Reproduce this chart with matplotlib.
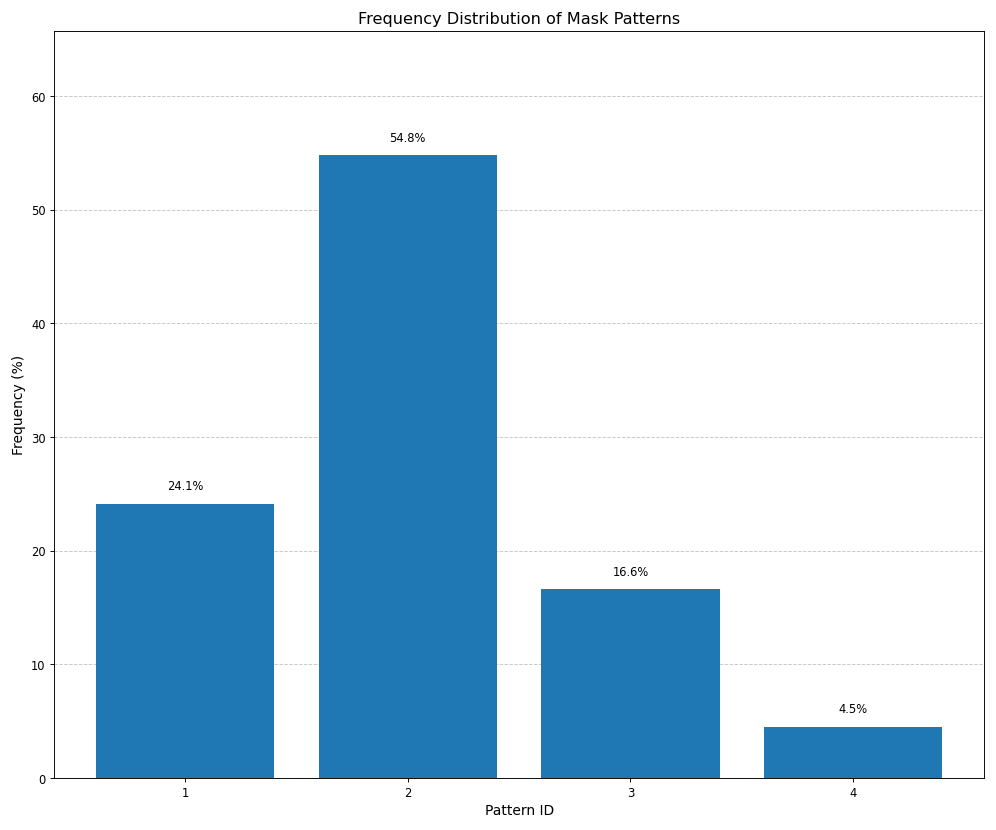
import matplotlib.pyplot as plt
import numpy as np

pattern_ids = [1, 2, 3, 4]
frequencies = [24.1, 54.8, 16.6, 4.5]

fig, ax = plt.subplots(figsize=(12, 10), dpi=83.08)
bars = ax.bar(pattern_ids, frequencies, color="#1f77b4")

for b, v in zip(bars, frequencies):
    ax.text(b.get_x() + b.get_width() / 2, v + 1, f"{v}%",
            ha="center", va="bottom", fontsize=10)

ax.set_xticks(pattern_ids)
ax.set_ylim(0, max(frequencies) * 1.2)
ax.set_xlabel("Pattern ID", fontsize=12)
ax.set_ylabel("Frequency (%)", fontsize=12)
ax.set_title("Frequency Distribution of Mask Patterns", fontsize=14)
ax.grid(axis="y", linestyle="--", alpha=0.7)
ax.set_axisbelow(True)

plt.tight_layout()
plt.savefig("out.png", dpi=83.08)
